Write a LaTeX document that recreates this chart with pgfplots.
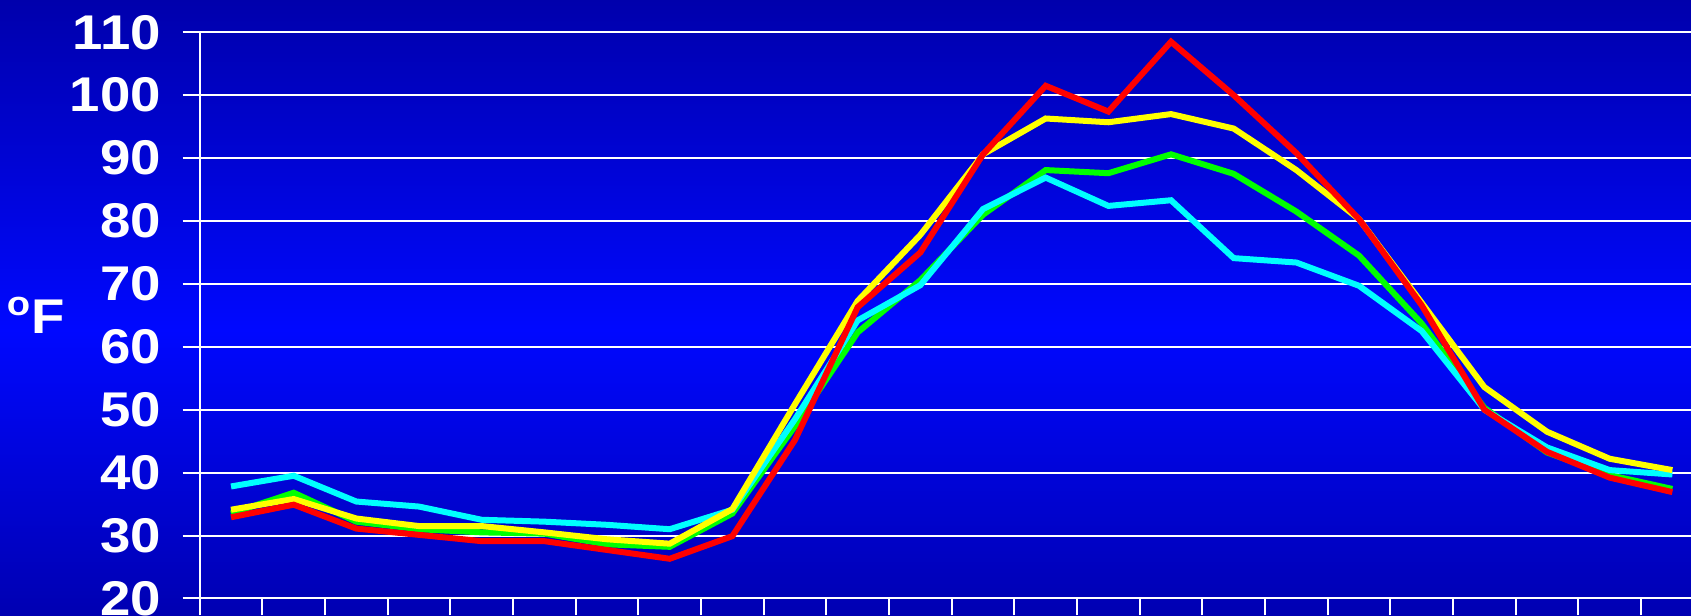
\documentclass[border=0pt]{standalone}
\usepackage{fontspec}
\setmainfont{Liberation Sans}
\newfontfamily\labelfont[FakeStretch=1.12]{Liberation Sans}
\usepackage{pgfplots}
\usepackage{pgfplotstable}
\pgfplotsset{compat=1.18}
\definecolor{bgtop}{RGB}{0,0,172}
\definecolor{bgmid}{RGB}{0,8,255}
\definecolor{bgbot}{RGB}{0,0,178}
\definecolor{lcyan}{RGB}{0,255,255}
\definecolor{lyellow}{RGB}{255,255,0}
\definecolor{lgreen}{RGB}{0,255,0}
\definecolor{lred}{RGB}{255,0,0}
\pgfplotstableread{
x    cyan  yellow green red
0.5  37.8  34.1   33.5  32.9
1.5  39.5  35.8   36.8  34.9
2.5  35.4  32.7   32.2  31.1
3.5  34.6  31.5   31.0  30.1
4.5  32.5  31.5   30.5  29.1
5.5  32.2  30.5   30.3  29.1
6.5  31.7  29.4   28.6  27.7
7.5  31.0  28.7   28.2  26.3
8.5  34.1  34.2   33.5  29.9
9.5  48.5  50.9   47.4  45.2
10.5 64.2  67.3   62.3  66.3
11.5 69.8  77.8   70.6  75.0
12.5 81.9  90.6   81.0  90.6
13.5 86.9  96.3   88.1  101.5
14.5 82.4  95.7   87.6  97.4
15.5 83.3  97.0   90.6  108.5
16.5 74.1  94.7   87.5  100.0
17.5 73.4  88.1   81.5  90.8
18.5 69.7  80.3   74.5  80.3
19.5 62.5  67.0   63.7  66.6
20.5 50.0  53.6   50.3  50.0
21.5 44.0  46.5   43.2  43.3
22.5 40.4  42.2   39.6  39.2
23.5 39.7  40.4   37.4  36.9
}\datatable
\begin{document}
\begin{tikzpicture}
\clip (0,0) rectangle (676.4pt,246pt);
\shade[top color=bgtop, bottom color=bgmid] (0,114pt) rectangle (676.4pt,246pt);
\shade[top color=bgmid, bottom color=bgbot] (0,0) rectangle (676.4pt,114.2pt);
\begin{axis}[
  at={(79.88pt,6.64pt)}, anchor=south west,
  scale only axis, width=601.6pt, height=226.44pt,
  xmin=0, xmax=24, ymin=20, ymax=110,
  axis x line*=bottom, axis y line*=left,
  axis line style={-, white, line width=0.8pt},
  ytick={20,30,...,110}, ymajorgrids,
  grid style={white, line width=0.8pt},
  xtick={0,...,24}, xticklabels={},
  tick align=outside, major tick length=6.8pt,
  tick style={white, line width=0.8pt},
  /pgf/number format/assume math mode=true,
  yticklabel style={font=\labelfont\fontsize{19.5}{20}\selectfont\bfseries, text=white, xshift=-5.2pt},
  ylabel={\textsuperscript{o}F},
  every axis y label/.style={at={(axis description cs:-0.109,0.5)}, anchor=center},
  ylabel style={font=\labelfont\fontsize{19.5}{20}\selectfont\bfseries, text=white},
]
\addplot[lgreen, line width=2.4pt] table[x=x, y=green] {\datatable};
\addplot[lcyan, line width=2.4pt] table[x=x, y=cyan] {\datatable};
\addplot[lyellow, line width=2.4pt] table[x=x, y=yellow] {\datatable};
\addplot[lred, line width=2.4pt] table[x=x, y=red] {\datatable};
\end{axis}
\end{tikzpicture}
\end{document}
